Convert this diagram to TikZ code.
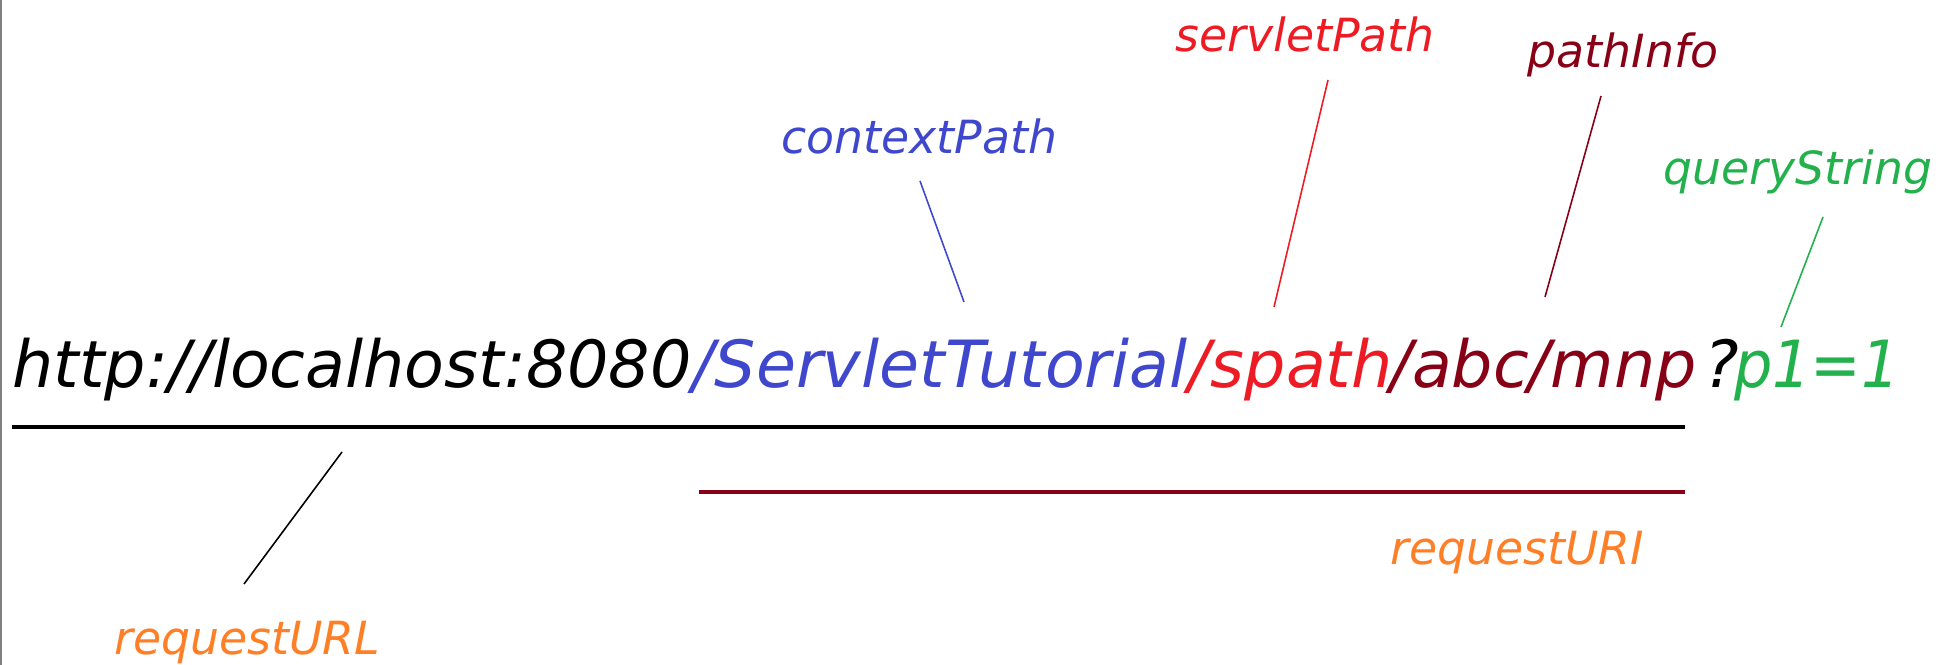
\documentclass[tikz,border=0pt]{standalone}
\usepackage{fontspec}
\setmainfont{DejaVu Sans}[ItalicFont={DejaVu Sans Oblique}]
\usetikzlibrary{positioning}

\definecolor{ctxblue}{HTML}{3F48CC}
\definecolor{srvred}{HTML}{ED1C24}
\definecolor{infored}{HTML}{880015}
\definecolor{qrygreen}{HTML}{22B14C}
\definecolor{reqorange}{HTML}{FF7F27}

\begin{document}
\begin{tikzpicture}[x=0.01cm, y=-0.01cm,
  seg/.style={inner sep=0pt, font=\fontsize{18.5}{22}\selectfont\itshape},
  tag/.style={inner sep=0pt, anchor=base west, font=\fontsize{13}{16}\selectfont\itshape},
  ptr/.style={line width=0.45pt}]

\useasboundingbox (0,0) rectangle (1949,665);
\draw[gray, line width=0.6pt] (1,0) -- (1,665);

% URL
      \node[seg, anchor=base west] (host) at (12,388) {http://localhost:8080};
      \node[seg, text=ctxblue, right=0pt of host.base east, anchor=base west] (ctx) {/ServletTutorial};
      \node[seg, text=srvred, right=0pt of ctx.base east, anchor=base west] (srv) {/spath};
      \node[seg, text=infored, right=-4 of srv.base east, anchor=base west] (info) {/abc/mnp};
      \node[seg, right=6 of info.base east, anchor=base west] (qmark) {?};
      \node[seg, text=qrygreen, right=-6 of qmark.base east, anchor=base west, xscale=0.93] (qry) {p1=1};

% underlines
      \draw[line width=0.9pt] (12,427) -- (1685,427);
      \draw[infored, line width=0.9pt] (699,492) -- (1685,492);

% labels
      \node[tag, text=srvred] (srvTag) at (1175,52) {servletPath};
      \node[tag, text=infored] (infoTag) at (1527,68) {pathInfo};
      \node[tag, text=ctxblue] (ctxTag) at (781,154) {contextPath};
      \node[tag, text=qrygreen] (qryTag) at (1663,185) {queryString};
      \node[tag, text=reqorange] (uriTag) at (1390,565) {requestURI};
      \node[tag, text=reqorange] (urlTag) at (114,655) {requestURL};

% pointers
      \coordinate (ctxA) at (920,181);   \coordinate (ctxB) at (964,302);
      \coordinate (srvA) at (1328,80);   \coordinate (srvB) at (1274,307);
      \coordinate (infoA) at (1601,96);  \coordinate (infoB) at (1545,297);
      \coordinate (qryA) at (1823,217);  \coordinate (qryB) at (1781,327);
      \coordinate (urlA) at (342,452);   \coordinate (urlB) at (244,584);

      \draw[ptr, ctxblue] (ctxA) -- (ctxB);
      \draw[ptr, srvred] (srvA) -- (srvB);
      \draw[ptr, infored] (infoA) -- (infoB);
      \draw[ptr, qrygreen] (qryA) -- (qryB);
      \draw[ptr] (urlA) -- (urlB);

    \end{tikzpicture}
\end{document}
